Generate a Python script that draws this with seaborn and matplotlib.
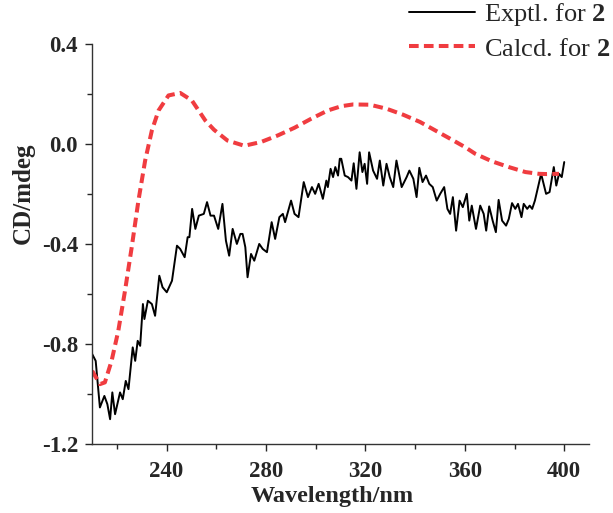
import matplotlib
matplotlib.use("Agg")

import matplotlib.pyplot as plt
import pandas as pd
import seaborn as sns
from matplotlib.ticker import MultipleLocator

# experimental CD spectrum (nm, mdeg)
exptl_nm = [
    210.1, 211.5, 213.2, 215.0, 216.2, 217.3, 218.2, 219.3, 221.3, 222.4,
    223.6, 224.7, 226.4, 227.4, 228.4, 229.4, 230.5, 231.1, 232.5, 234.1,
    235.4, 237.1, 238.4, 240.1, 242.2, 244.2, 245.5, 247.3, 248.5, 249.2,
    250.3, 251.6, 253.0, 255.0, 256.3, 257.7, 259.1, 260.8, 262.5, 263.9,
    265.2, 266.6, 268.3, 269.7, 270.6, 271.7, 272.6, 274.0, 275.3, 277.3,
    278.7, 280.4, 282.3, 283.7, 285.4, 286.8, 287.7, 290.1, 291.5, 293.1,
    295.2, 296.9, 298.5, 299.8, 301.2, 302.9, 304.3, 304.9, 306.0, 307.0,
    307.9, 309.0, 309.7, 310.3, 311.7, 313.0, 314.4, 315.3, 316.4, 317.7,
    318.8, 319.7, 320.7, 321.5, 323.1, 324.7, 325.8, 327.2, 328.5, 329.8,
    331.2, 332.5, 334.6, 336.6, 337.7, 339.3, 340.6, 341.7, 343.0, 344.4,
    345.7, 347.1, 348.7, 350.1, 351.7, 353.0, 354.1, 355.2, 356.5, 357.9,
    359.2, 360.8, 361.8, 362.8, 364.5, 366.2, 367.6, 368.6, 369.8, 371.2,
    372.5, 373.6, 375.0, 376.6, 377.7, 379.0, 380.3, 381.4, 382.8, 383.7,
    385.1, 386.1, 387.1, 388.2, 390.7, 392.7, 394.1, 395.8, 396.8, 397.9,
    399.0, 400.0,
]
exptl_cd = [
    -0.840, -0.867, -1.053, -1.007, -1.040, -1.100, -0.993, -1.080, -0.993, -1.020,
    -0.947, -0.980, -0.813, -0.867, -0.787, -0.807, -0.640, -0.700, -0.627, -0.640,
    -0.687, -0.527, -0.573, -0.593, -0.547, -0.407, -0.420, -0.453, -0.373, -0.373,
    -0.260, -0.340, -0.287, -0.280, -0.233, -0.287, -0.287, -0.340, -0.240, -0.387,
    -0.447, -0.340, -0.400, -0.360, -0.360, -0.413, -0.533, -0.440, -0.467, -0.400,
    -0.420, -0.433, -0.313, -0.380, -0.293, -0.280, -0.313, -0.227, -0.280, -0.293,
    -0.153, -0.213, -0.173, -0.200, -0.160, -0.220, -0.147, -0.173, -0.100, -0.133,
    -0.093, -0.127, -0.060, -0.060, -0.127, -0.133, -0.147, -0.078, -0.180, -0.034,
    -0.113, -0.080, -0.160, -0.034, -0.107, -0.140, -0.067, -0.167, -0.080, -0.133,
    -0.173, -0.067, -0.173, -0.133, -0.107, -0.140, -0.213, -0.096, -0.153, -0.127,
    -0.160, -0.173, -0.227, -0.200, -0.173, -0.260, -0.280, -0.213, -0.347, -0.227,
    -0.253, -0.200, -0.307, -0.247, -0.340, -0.247, -0.280, -0.347, -0.250, -0.307,
    -0.353, -0.224, -0.307, -0.327, -0.300, -0.237, -0.260, -0.240, -0.293, -0.240,
    -0.260, -0.247, -0.260, -0.227, -0.120, -0.200, -0.193, -0.093, -0.167, -0.120,
    -0.133, -0.073,
]

# calculated ECD spectrum
calcd_nm = [
    210.1, 213.2, 215.2, 217.9, 220.6, 223.3, 226.0, 228.7, 231.4, 234.1,
    236.8, 240.8, 245.5, 250.2, 255.6, 259.1, 264.5, 271.3, 278.0, 284.7,
    291.5, 298.2, 304.9, 310.3, 315.0, 321.8, 328.5, 335.2, 342.0, 348.7,
    355.4, 360.2, 364.2, 370.9, 377.7, 384.4, 389.8, 393.0, 397.9,
]
calcd_cd = [
    -0.907, -0.960, -0.953, -0.867, -0.747, -0.587, -0.413, -0.227, -0.067, 0.053,
    0.133, 0.193, 0.203, 0.173, 0.093, 0.056, 0.013, -0.008, 0.007, 0.033,
    0.064, 0.100, 0.133, 0.150, 0.157, 0.156, 0.140, 0.116, 0.087, 0.050,
    0.013, -0.014, -0.040, -0.070, -0.093, -0.113, -0.120, -0.121, -0.120,
]

x_ticks = [240, 280, 320, 360, 400]
y_ticks = [-1.2, -0.8, -0.4, 0.0, 0.4]

SERIF = ["Liberation Serif", "DejaVu Serif"]


def main() -> None:
    sns.set_style("ticks")
    plt.rcParams["font.family"] = SERIF
    plt.rcParams["mathtext.fontset"] = "custom"
    plt.rcParams["mathtext.rm"] = "Liberation Serif"
    plt.rcParams["mathtext.bf"] = "Liberation Serif:bold"

    exptl_df = pd.DataFrame({"nm": exptl_nm, "cd": exptl_cd})
    calcd_df = pd.DataFrame({"nm": calcd_nm, "cd": calcd_cd})

    fig = plt.figure(figsize=(6.13, 5.13), dpi=100)
    ax = fig.add_axes([0.150, 0.134, 0.811, 0.781])

    sns.lineplot(data=exptl_df, x="nm", y="cd", ax=ax, color="black",
                 linewidth=1.4, estimator=None, sort=False,
                 label=r"Exptl. for $\mathbf{2}$")
    sns.lineplot(data=calcd_df, x="nm", y="cd", ax=ax, color="#f03c40",
                 linewidth=2.9, estimator=None, sort=False,
                 label=r"Calcd. for $\mathbf{2}$")
    ax.lines[1].set_dashes((2.4, 1.3))
    ax.lines[1].set_dash_capstyle("butt")

    ax.set_xlim(210, 410)
    ax.set_ylim(-1.2, 0.4)
    ax.set_xticks(x_ticks)
    ax.set_yticks(y_ticks)
    ax.set_yticklabels([f"{v:.1f}" for v in y_ticks])
    ax.xaxis.set_minor_locator(MultipleLocator(20))
    ax.yaxis.set_minor_locator(MultipleLocator(0.2))
    ax.tick_params(which="major", length=5, width=1.0, labelsize=16.5)
    ax.tick_params(which="minor", length=3.5, width=1.0)
    ax.tick_params(axis="x", which="major", pad=7)
    ax.tick_params(axis="y", which="major", pad=5)
    for lab in ax.get_xticklabels() + ax.get_yticklabels():
        lab.set_fontweight("bold")

    for side in ("top", "right"):
        ax.spines[side].set_visible(False)
    for side in ("left", "bottom"):
        ax.spines[side].set_linewidth(1.0)
        ax.spines[side].set_color("#333333")

    ax.set_xlabel("Wavelength/nm", fontsize=17.5, fontweight="bold")
    ax.set_ylabel("CD/mdeg", fontsize=18, fontweight="bold")
    ax.xaxis.set_label_coords(0.483, -0.105)
    ax.yaxis.set_label_coords(-0.115, 0.627)

    ax.legend(loc="upper right", bbox_to_anchor=(0.995, 0.998),
              bbox_transform=fig.transFigure, frameon=False, fontsize=19,
              handlelength=2.5, handletextpad=0.35, labelspacing=0.35,
              borderaxespad=0.0, borderpad=0.0)

    fig.savefig("out.png", dpi=100)
    plt.close(fig)


if __name__ == "__main__":
    main()
